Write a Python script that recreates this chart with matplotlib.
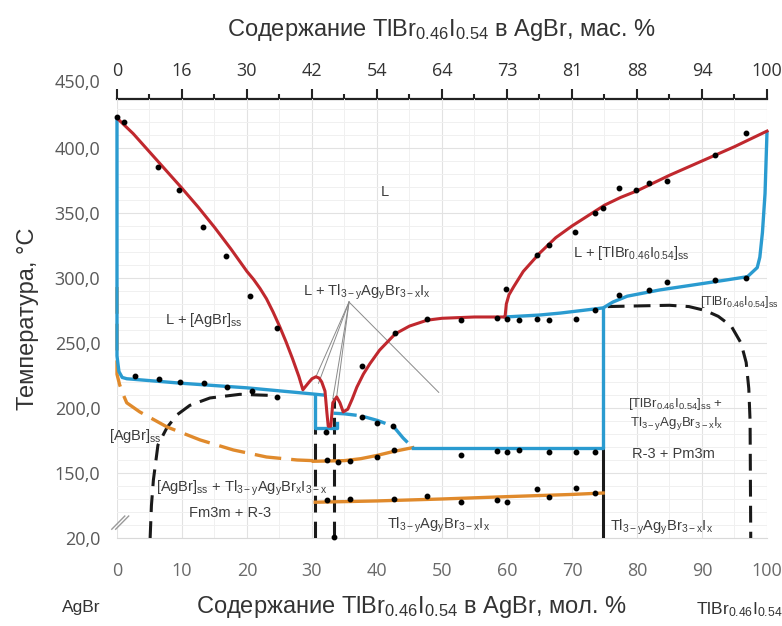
import matplotlib
matplotlib.use("Agg")
import matplotlib.pyplot as plt

plt.rcParams['font.family'] = ['Liberation Sans', 'DejaVu Sans']
plt.rcParams['mathtext.fontset'] = 'custom'
plt.rcParams['mathtext.rm'] = 'Liberation Sans'
plt.rcParams['mathtext.it'] = 'Liberation Sans:italic'
plt.rcParams['mathtext.default'] = 'regular'

# --- data (x: mol. % TlBr0.46I0.54, y: temperature, C) ---
# liquidus
liq_x = [0, 2.5, 5, 7.5, 10, 12.5, 15, 17.5, 20, 21, 22, 23, 24, 25, 26, 27, 28, 28.6,
         29.4, 30.0, 30.6, 31.1, 31.5, 32.0, 32.3, 32.5, 32.9, 33.2, 33.8, 34.3, 34.8,
         35.5, 36.2, 36.9, 37.9, 38.9, 40.4, 42.8, 45, 47.7, 50, 55, 59.7, 59.9, 60.3,
         61, 62.5, 65, 67.5, 70, 72.5, 75, 77.5, 80, 85, 90, 95, 100]
liq_t = [423, 411, 397, 383, 369, 354.5, 339, 322.5, 305, 299, 292, 284, 274, 263,
         251, 238, 224, 214,
         219, 222.5, 224, 223, 220, 213, 196, 186, 186, 204, 208.5, 204, 197,
         199, 207, 216, 226, 234, 244.5, 257, 263, 267.5, 269, 270, 270, 280, 287,
         293, 305, 319, 331, 340, 348, 356, 362, 367, 379, 390, 401, 413]

# solidus / eutectic lines
sol_left_x = [0, 0, 0.3, 0.8, 1.5, 10, 20, 28.6, 31.7]
sol_left_t = [421, 240, 228, 223.5, 222.5, 219, 215.5, 211.5, 210]
eut_box_x = [30.5, 30.5, 33.8, 33.8]
eut_box_t = [210, 184.5, 184.5, 188.5]
sol_mid_x = [33.3, 35, 37.5, 40, 42.5, 44, 45.5]
sol_mid_t = [196, 195.5, 194, 190.5, 186, 177, 169.5]
per_x = [45.5, 74.8, 74.8]
per_t = [169.5, 169.5, 277]
sol_right_x = [59.7, 65, 68.2, 73.2, 74.8, 76.3, 78.5, 83.5, 88.6, 93.8, 97, 98.5,
               98.9, 99.3, 99.7, 100]
sol_right_t = [270, 271.5, 273, 276, 277, 281.5, 286, 290.8, 294.6, 298.5, 301, 308,
               316, 335, 365, 412]

# polymorphic transitions
agbr_tr_x = [0, 0, 0.4, 0.9, 1.5, 3.5, 7.7, 12.8, 17.9, 23, 27.7, 30.2]
agbr_tr_t = [293, 226, 218, 211, 204, 197, 185.4, 175.4, 167.7, 162.3, 160, 159.5]
mid_tr_x = [30.2, 35, 37.5, 40, 42.5, 45.5]
mid_tr_t = [159, 159.5, 161, 163.5, 166.5, 169.5]
low_tr_x = [30.5, 40, 50, 60, 70, 74.8]
low_tr_t = [127.5, 128.5, 130, 131.8, 133.5, 134.6]

# solubility limits (dashed)
agbr_sol_x = [5.1, 5.3, 5.6, 6.3, 7.7, 9.2, 11.2, 14.3, 18.9, 24.6]
agbr_sol_t = [100, 125, 144.6, 171.5, 185, 194.6, 202, 207.7, 210.5, 209.5]
tlbr_sol_x = [75.5, 80, 85, 88, 90.5, 92.5, 94.5, 96, 96.8, 97.2, 97.4, 97.5]
tlbr_sol_t = [278, 278.5, 279, 278, 275, 270.5, 263, 250, 235, 215, 190, 100]
v1_x = [30.5, 30.5]
v1_t = [100, 184.5]
v2_x = [33.4, 33.4]
v2_t = [100, 207.5]
v3_x = [74.8, 74.8]
v3_t = [100, 169.5]

# experimental points
pts_x = [0, 1.1, 6.3, 9.5, 13.2, 16.8, 20.5, 24.6,
         2.8, 6.5, 9.7, 13.4, 16.9, 20.7, 24.6,
         32.2, 37.7, 42.8, 47.7, 52.9, 58.5, 60, 61.9, 64.6, 66.5, 70.6, 73.5,
         40, 42.5, 42.6, 37.7, 32.3, 34, 35.8, 40,
         52.9, 58.5, 60, 61.9, 66.5, 70.6, 73.5,
         32.3, 35.8, 42.6, 47.7, 52.9, 58.5, 60, 64.6, 66.5, 70.6, 73.5, 33.4,
         59.8, 64.6, 66.5, 70.5, 73.5, 74.8, 77.2, 79.8, 81.8, 84.6, 92, 96.8,
         77.2, 81.8, 84.6, 92, 96.8]
pts_t = [424, 420, 385, 368, 339, 317, 286, 261.5,
         224.5, 222.3, 220, 219, 216, 213, 208.5,
         181.5, 232, 258, 268.5, 268, 269, 268.5, 268, 268.5, 268, 268.5, 275,
         188.5, 186, 167.7, 193, 160, 158.5, 159, 162,
         164, 167, 166, 167.7, 166, 166, 166,
         129, 130, 130, 132.3, 127.7, 129, 127.7, 137.7, 131.5, 138.5, 134.6, 101,
         291.5, 317.7, 325.4, 335.4, 350, 353.8, 369, 367.7, 373, 374.6, 394.6, 411.5,
         287, 290.8, 297, 298.5, 300]

# leader lines of the "L + Tl..." label
lead_from = (35.7, 281.5)
lead_to_x = [30.6, 31.0, 33.2, 33.8, 49.5]
lead_to_t = [224, 219, 207, 209, 212]

top_ticks = [0, 10, 20, 30, 40, 50, 60, 70, 80, 90, 100]
top_labels = ['0', '16', '30', '42', '54', '64', '73', '81', '88', '94', '100']
y_ticks = [100, 150, 200, 250, 300, 350, 400]
y_labels = ['20,0', '150,0', '200,0', '250,0', '300,0', '350,0', '400,0']

RED = '#c0282e'
BLUE = '#2a9bd0'
ORANGE = '#e08a2c'
BLACK = '#1a1a1a'
TXT = '#3c3c3c'

fig = plt.figure(figsize=(7.82, 6.26), dpi=100)
ax = fig.add_axes([0.1496, 0.1406, 0.8312, 0.7013])
ax.set_xlim(0, 100)
ax.set_ylim(100, 437.7)

# grid
ax.set_xticks(range(0, 101, 10))
ax.set_xticks(range(5, 100, 10), minor=True)
ax.set_yticks(y_ticks)
ax.set_yticks(range(100, 438, 10), minor=True)
ax.grid(True, which='major', color='#e2e2e2', lw=0.8)
ax.grid(True, which='minor', color='#f0f0f0', lw=0.7)
ax.set_axisbelow(True)
for s in ['left', 'right', 'top']:
    ax.spines[s].set_visible(False)
ax.spines['bottom'].set_color('#d9d9d9')

ax.set_xticklabels([str(v) for v in range(0, 101, 10)], fontfamily='Open Sans',
                   fontsize=13, color='#6a6a6a')
ax.set_yticklabels(y_labels, fontfamily='Open Sans', fontsize=13, color='#595959')
ax.tick_params(axis='x', which='both', length=0, pad=17)
ax.tick_params(axis='y', which='both', length=0, pad=12)
ax.text(-2.6, 450, '450,0', ha='right', va='center', fontfamily='Open Sans',
        fontsize=13, color='#595959', clip_on=False)

# top (mass %) axis
top = ax.secondary_xaxis('top')
top.set_xticks(top_ticks)
top.set_xticks(range(5, 100, 10), minor=True)
top.set_xticklabels(top_labels, fontfamily='Open Sans', fontsize=13, color='#333333')
top.tick_params(axis='x', which='major', direction='out', length=7, width=1.5,
                color='#222222', pad=7)
top.tick_params(axis='x', which='minor', direction='out', length=3.5, width=1.5,
                color='#222222')
top.spines['top'].set_linewidth(1.6)
top.spines['top'].set_color('#222222')

# lines
for lx, lt in zip(lead_to_x, lead_to_t):
    ax.plot([lead_from[0], lx], [lead_from[1], lt], color='#8a8a8a', lw=0.7, zorder=2)

ax.plot(agbr_sol_x, agbr_sol_t, color=BLACK, lw=2.2, dashes=(5.5, 3), zorder=3)
ax.plot(tlbr_sol_x, tlbr_sol_t, color=BLACK, lw=2.2, dashes=(5.5, 3), zorder=3)
ax.plot(v1_x, v1_t, color=BLACK, lw=2.2, dashes=(5.5, 3), zorder=3)
ax.plot(v2_x, v2_t, color=BLACK, lw=2.2, dashes=(5.5, 3), zorder=3)
ax.plot(v3_x, v3_t, color=BLACK, lw=2.2, zorder=3)

ax.plot(agbr_tr_x, agbr_tr_t, color=ORANGE, lw=2.4, dashes=(8, 3), zorder=4,
        clip_on=False)
ax.plot(mid_tr_x, mid_tr_t, color=ORANGE, lw=2.4, zorder=4)
ax.plot(low_tr_x, low_tr_t, color=ORANGE, lw=2.4, zorder=4)

ax.plot(sol_left_x, sol_left_t, color=BLUE, lw=2.4, zorder=5, clip_on=False)
ax.plot(eut_box_x, eut_box_t, color=BLUE, lw=2.4, zorder=5)
ax.plot(sol_mid_x, sol_mid_t, color=BLUE, lw=2.4, dashes=(7, 2), zorder=5)
ax.plot(per_x, per_t, color=BLUE, lw=2.4, zorder=5)
ax.plot(sol_right_x, sol_right_t, color=BLUE, lw=2.4, zorder=5, clip_on=False)

ax.plot(liq_x, liq_t, color=RED, lw=2.2, zorder=6, clip_on=False)

ax.plot(pts_x, pts_t, 'o', color='black', ms=3.2, zorder=7, clip_on=False)

# broken axis mark
for dx in (0.0, 0.006):
    ax.plot([-0.008 + dx, 0.012 + dx], [0.02, 0.05], color='#9a9a9a', lw=1,
            transform=ax.transAxes, clip_on=False)

# region labels
fs = 10.5
kw = dict(color=TXT, fontsize=fs, clip_on=False)
TLS = r'Tl$_{3-y}$Ag$_{y}$Br$_{3-x}$I$_{x}$'
ax.text(41.2, 366, 'L', ha='center', va='center', **kw)
ax.text(13.3, 268, r'L + [AgBr]$_{ss}$', ha='center', va='center', **kw)
ax.text(38.4, 289, 'L + ' + TLS, ha='center', va='center', **kw)
ax.text(79.2, 319, r'L + [TlBr$_{0.46}$I$_{0.54}$]$_{ss}$', ha='center', va='center', **kw)
ax.text(101.8, 281.5, r'[TlBr$_{0.46}$I$_{0.54}$]$_{ss}$', ha='right', va='center',
        color=TXT, fontsize=9, clip_on=False)
ax.text(-1.2, 178.5, r'[AgBr]$_{ss}$', ha='left', va='center', **kw)
ax.text(19.2, 138.5, r'[AgBr]$_{ss}$ + Tl$_{3-y}$Ag$_{y}$Br$_{x}$I$_{3-x}$',
        ha='center', va='center', **kw)
ax.text(17.4, 119, 'Fm3m + R-3', ha='center', va='center', **kw)
ax.text(49.5, 110, TLS, ha='center', va='center', **kw)
ax.text(78.6, 203, r'[TlBr$_{0.46}$I$_{0.54}$]$_{ss}$ +', ha='left', va='center',
        color=TXT, fontsize=9.5, clip_on=False)
ax.text(78.9, 188, TLS, ha='left', va='center', color=TXT, fontsize=9.5, clip_on=False)
ax.text(85.6, 164.6, 'R-3 + Pm3m', ha='center', va='center', **kw)
ax.text(75.8, 108.5, TLS, ha='left', va='center', **kw)

# axis titles
fig.text(0.565, 0.952, r'Содержание TlBr$_{0.46}$I$_{0.54}$ в AgBr, мас. %',
         ha='center', va='center', fontsize=17, color='#333333')
fig.text(0.526, 0.030, r'Содержание TlBr$_{0.46}$I$_{0.54}$ в AgBr, мол. %',
         ha='center', va='center', fontsize=17, color='#333333')
fig.text(0.036, 0.49, 'Температура, °C', rotation=90, ha='center', va='center',
         fontsize=17, color='#333333')
fig.text(0.104, 0.030, 'AgBr', ha='center', va='center', fontsize=12.5, color='#333333')
fig.text(0.945, 0.026, r'TlBr$_{0.46}$I$_{0.54}$', ha='center', va='center',
         fontsize=12.5, color='#333333')

fig.savefig('out.png', dpi=100)
